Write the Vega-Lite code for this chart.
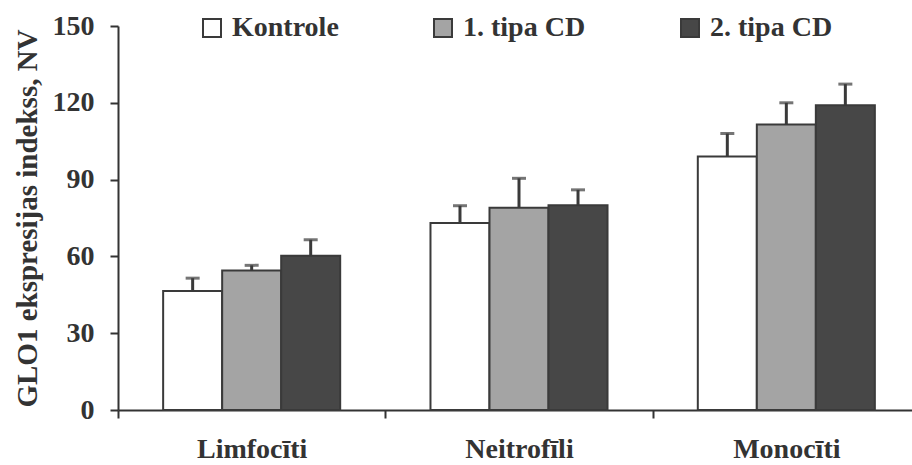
{
  "$schema": "https://vega.github.io/schema/vega-lite/v6.json",
  "autosize": {"type": "none"},
  "width": 794,
  "height": 384,
  "padding": {"left": 118, "top": 26, "right": 0, "bottom": 55},
  "background": "white",
  "config": {
    "view": {"stroke": null},
    "font": "Liberation Serif",
    "axis": {
      "labelFont": "Liberation Serif", "labelFontWeight": "bold", "labelFontSize": 28, "labelColor": "#333333",
      "titleFont": "Liberation Serif", "titleFontWeight": "bold", "titleFontSize": 29, "titleColor": "#333333",
      "domainColor": "#333333", "domainWidth": 2, "tickColor": "#333333", "tickWidth": 2, "tickSize": 8, "grid": false
    },
    "legend": {
      "labelFont": "Liberation Serif", "labelFontWeight": "bold", "labelFontSize": 28, "labelColor": "#333333"
    }
  },
  "data": {
    "values": [
      {"cell": "Limfocīti", "group": "Kontrole", "value": 46.5, "upper": 51.5},
      {"cell": "Limfocīti", "group": "1. tipa CD", "value": 54.5, "upper": 56.5},
      {"cell": "Limfocīti", "group": "2. tipa CD", "value": 60.3, "upper": 66.5},
      {"cell": "Neitrofīli", "group": "Kontrole", "value": 73, "upper": 79.8},
      {"cell": "Neitrofīli", "group": "1. tipa CD", "value": 79, "upper": 90.5},
      {"cell": "Neitrofīli", "group": "2. tipa CD", "value": 80, "upper": 86},
      {"cell": "Monocīti", "group": "Kontrole", "value": 99, "upper": 108},
      {"cell": "Monocīti", "group": "1. tipa CD", "value": 111.5, "upper": 120},
      {"cell": "Monocīti", "group": "2. tipa CD", "value": 119, "upper": 127.3}
    ]
  },
  "encoding": {
    "x": {
      "field": "cell", "type": "nominal", "sort": ["Limfocīti", "Neitrofīli", "Monocīti"],
      "scale": {"paddingInner": 0, "paddingOuter": 0, "range": [0, 802]},
      "axis": {"title": null, "labelAngle": 0, "tickBand": "extent", "labelPadding": 17}
    },
    "xOffset": {
      "field": "group", "type": "nominal", "sort": ["Kontrole", "1. tipa CD", "2. tipa CD"],
      "scale": {"paddingInner": 0, "paddingOuter": 0.765}
    }
  },
  "layer": [
    {
      "mark": {"type": "bar", "stroke": "#3a3a3a", "strokeWidth": 2},
      "encoding": {
        "y": {
          "field": "value", "type": "quantitative",
          "scale": {"domain": [0, 150], "nice": false},
          "axis": {"values": [0, 30, 60, 90, 120, 150], "title": "GLO1 ekspresijas indekss, NV", "labelPadding": 16, "titlePadding": 10}
        },
        "fill": {
          "field": "group", "type": "nominal",
          "scale": {"domain": ["Kontrole", "1. tipa CD", "2. tipa CD"], "range": ["#ffffff", "#a4a4a4", "#474747"]},
          "legend": {
            "title": null, "orient": "none", "legendX": 80, "legendY": -12, "direction": "horizontal", "columns": 3,
            "columnPadding": 90, "labelOffset": 6, "symbolType": "square", "symbolSize": 324,
            "symbolStrokeColor": "#3a3a3a", "symbolStrokeWidth": 2, "padding": 0
          }
        }
      }
    },
    {
      "mark": {"type": "rule", "color": "#3a3a3a", "strokeWidth": 3},
      "encoding": {
        "y": {"field": "value", "type": "quantitative"},
        "y2": {"field": "upper"}
      }
    },
    {
      "mark": {"type": "tick", "color": "#3a3a3a", "size": 14, "thickness": 3},
      "encoding": {
        "y": {"field": "upper", "type": "quantitative"}
      }
    }
  ]
}
